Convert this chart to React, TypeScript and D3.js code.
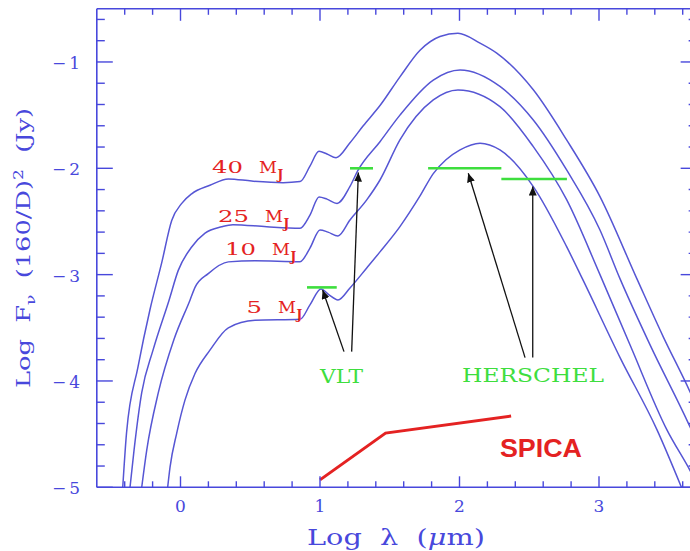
import React from "react";
import * as d3 from "d3";

const W = 690;
const H = 551;

// ---------- data ----------
const xDomain: [number, number] = [-0.6, 3.7];
const yDomain: [number, number] = [-5, -0.5];

const xMajorTicks = [0, 1, 2, 3];
const xTickLabels = ["0", "1", "2", "3"];
const yMajorTicks = [-5, -4, -3, -2, -1];
const yTickLabels = ["\u22125", "\u22124", "\u22123", "\u22122", "\u22121"];

const curve40: [number, number][] = [
  [-0.414, -5.0], [-0.387, -4.49], [-0.305, -3.87], [-0.219, -3.33], [-0.135, -2.89],
  [-0.063, -2.49], [0.009, -2.33], [0.08, -2.24], [0.211, -2.16], [0.343, -2.1],
  [0.51, -2.12], [0.735, -2.135], [0.857, -2.125], [0.928, -1.98], [0.993, -1.84],
  [1.05, -1.865], [1.115, -1.9], [1.215, -1.76], [1.31, -1.6], [1.43, -1.41],
  [1.573, -1.14], [1.717, -0.89], [1.86, -0.761], [1.989, -0.73], [2.147, -0.823],
  [2.267, -0.917], [2.529, -1.262], [2.768, -1.733], [3.007, -2.266], [3.272, -3.04],
  [3.459, -3.58], [3.652, -4.1], [3.7, -4.24],
];

const curve25: [number, number][] = [
  [-0.362, -5.0], [-0.333, -4.65], [-0.278, -4.11], [-0.197, -3.71], [-0.082, -3.24],
  [-0.016, -2.96], [0.08, -2.74], [0.176, -2.61], [0.295, -2.55], [0.376, -2.53],
  [0.618, -2.55], [0.857, -2.563], [0.928, -2.44], [0.993, -2.27], [1.05, -2.29],
  [1.122, -2.33], [1.215, -2.17], [1.272, -2.02], [1.43, -1.75], [1.573, -1.5],
  [1.812, -1.17], [2.004, -1.075], [2.29, -1.23], [2.529, -1.545], [2.768, -2.015],
  [3.007, -2.58], [3.151, -3.04], [3.366, -3.66], [3.652, -4.43], [3.7, -4.57],
];

const curve10: [number, number][] = [
  [-0.278, -5.0], [-0.242, -4.65], [-0.159, -4.11], [-0.047, -3.61], [0.068, -3.24],
  [0.104, -3.12], [0.199, -2.99], [0.343, -2.88], [0.534, -2.87], [0.857, -2.878],
  [0.928, -2.75], [1.0, -2.58], [1.057, -2.6], [1.129, -2.636], [1.215, -2.486],
  [1.335, -2.297], [1.43, -2.11], [1.573, -1.733], [1.812, -1.357], [1.989, -1.263],
  [2.29, -1.42], [2.529, -1.796], [2.768, -2.295], [3.007, -3.0], [3.222, -3.66],
  [3.487, -4.46], [3.652, -4.84], [3.7, -4.96],
];

const curve5: [number, number][] = [
  [-0.092, -5.0], [-0.075, -4.81], [-0.027, -4.49], [0.032, -4.18], [0.104, -3.93],
  [0.211, -3.71], [0.343, -3.5], [0.534, -3.43], [0.857, -3.42], [0.928, -3.285],
  [1.007, -3.135], [1.065, -3.19], [1.129, -3.238], [1.215, -3.125], [1.335, -2.937],
  [1.43, -2.786], [1.573, -2.548], [1.717, -2.26], [1.812, -2.05], [1.903, -1.92],
  [2.004, -1.827], [2.147, -1.764], [2.29, -1.827], [2.529, -2.172], [2.768, -2.737],
  [2.885, -3.05], [3.151, -3.78], [3.416, -4.46], [3.591, -5.0],
];

const curves = [curve40, curve25, curve10, curve5];
const massLabels = ["40", "25", "10", "5"];
const massLabelPos: [number, number][] = [
  [0.563, -2.043], [0.606, -2.504], [0.656, -2.815], [0.699, -3.36],
];

// [x0, x1, y]
const vltBars: [number, number, number][] = [
  [0.907, 1.12, -3.12],
  [1.215, 1.38, -2.0],
];
const herschelBars: [number, number, number][] = [
  [1.775, 2.3, -2.0],
  [2.3, 2.77, -2.1],
];

// [tailX, tailY, tipX, tipY]
const arrows: [number, number, number, number][] = [
  [1.172, -3.724, 1.019, -3.144],
  [1.227, -3.724, 1.275, -2.04],
  [2.47, -3.78, 2.063, -2.046],
  [2.525, -3.78, 2.525, -2.172],
];

const spicaLine: [number, number][] = [
  [1.0, -4.93],
  [1.47, -4.49],
  [2.37, -4.33],
];

const textLabels = {
  vlt: "VLT",
  herschel: "HERSCHEL",
  spica: "SPICA",
};
const vltPos: [number, number] = [1.0, -4.02];
const herschelPos: [number, number] = [2.018, -4.01];
const spicaPos: [number, number] = [2.29, -4.715];

// ---------- styles ----------
const BLUE = "#4848dc";
const CURVE = "#5656d4";
const RED = "#e42222";
const GREEN = "#3ede3e";
const SERIF = "'DejaVu Serif', serif";

export default function App() {
  const x = d3.scaleLinear().domain(xDomain).range([96.8, 696.65]);
  const y = d3.scaleLinear().domain(yDomain).range([487.3, 8.8]);

  const line = d3
    .line<[number, number]>()
    .x((d) => x(d[0]))
    .y((d) => y(d[1]))
    .curve(d3.curveMonotoneX);

  const straight = d3
    .line<[number, number]>()
    .x((d) => x(d[0]))
    .y((d) => y(d[1]));

  const xMinor = d3.range(-2, 19).map((i) => i * 0.2).filter(
    (v) => Math.abs(v - Math.round(v)) > 1e-6
  );
  const yMinor = d3.range(-24, -2).map((i) => i * 0.2).filter(
    (v) => Math.abs(v - Math.round(v)) > 1e-6
  );

  const x0 = x(xDomain[0]);
  const x1 = x(xDomain[1]);
  const y0 = y(yDomain[0]);
  const y1 = y(yDomain[1]);

  return (
    <svg
      width={W}
      height={H}
      style={{ position: "absolute", left: 0, top: 0, background: "#fff" }}
      xmlns="http://www.w3.org/2000/svg"
    >
      <defs>
        <clipPath id="plot">
          <rect x={x0} y={y1} width={x1 - x0} height={y0 - y1} />
        </clipPath>
        <marker
          id="ah"
          markerUnits="userSpaceOnUse"
          markerWidth={10}
          markerHeight={8}
          refX={9}
          refY={4}
          orient="auto"
        >
          <path d="M0,0 L9,4 L0,8 Z" fill="#111" />
        </marker>
      </defs>
      <rect x={0} y={0} width={W} height={H} fill="#fff" />

      {/* curves */}
      <g clipPath="url(#plot)">
        {curves.map((c, i) => (
          <path key={i} d={line(c) || ""} fill="none" stroke={CURVE} strokeWidth={1.5} />
        ))}
      </g>

      {/* green bars */}
      {[...vltBars, ...herschelBars].map((b, i) => (
        <line
          key={i}
          x1={x(b[0])}
          x2={x(b[1])}
          y1={y(b[2])}
          y2={y(b[2])}
          stroke={GREEN}
          strokeWidth={2.6}
        />
      ))}

      {/* arrows */}
      {arrows.map((a, i) => (
        <line
          key={i}
          x1={x(a[0])}
          y1={y(a[1])}
          x2={x(a[2])}
          y2={y(a[3])}
          stroke="#111"
          strokeWidth={1.3}
          markerEnd="url(#ah)"
        />
      ))}

      {/* SPICA */}
      <path d={straight(spicaLine) || ""} fill="none" stroke={RED} strokeWidth={3} />
      <text
        x={x(spicaPos[0])}
        y={y(spicaPos[1])}
        fill={RED}
        fontFamily="'Liberation Sans', Arial, sans-serif"
        fontWeight="bold"
        fontSize={25}
        textLength={82}
        lengthAdjust="spacingAndGlyphs"
      >
        {textLabels.spica}
      </text>

      {/* VLT / HERSCHEL labels */}
      <text
        x={x(vltPos[0])}
        y={y(vltPos[1])}
        fill={GREEN}
        fontFamily={SERIF}
        fontSize={19}
        textLength={43}
        lengthAdjust="spacingAndGlyphs"
      >
        {textLabels.vlt}
      </text>
      <text
        x={x(herschelPos[0])}
        y={y(herschelPos[1])}
        fill={GREEN}
        fontFamily={SERIF}
        fontSize={19}
        textLength={142}
        lengthAdjust="spacingAndGlyphs"
      >
        {textLabels.herschel}
      </text>

      {/* mass labels */}
      {massLabels.map((m, i) => {
        const px = x(massLabelPos[i][0]);
        const py = y(massLabelPos[i][1]);
        return (
          <g key={m} fill={RED} fontFamily={SERIF}>
            <text
              x={px - 16}
              y={py}
              fontSize={17}
              textAnchor="end"
              textLength={m.length * 15.5}
              lengthAdjust="spacingAndGlyphs"
            >
              {m}
            </text>
            <text x={px} y={py} fontSize={17} textLength={18} lengthAdjust="spacingAndGlyphs">
              M
            </text>
            <text x={px + 18.5} y={py + 6} fontSize={12} fontWeight="bold">
              J
            </text>
          </g>
        );
      })}

      {/* frame */}
      <g stroke={BLUE} strokeWidth={1.6} fill="none">
        <line x1={x0} x2={x1} y1={y0} y2={y0} />
        <line x1={x0} x2={x1} y1={y1} y2={y1} />
        <line x1={x0} x2={x0} y1={y0} y2={y1} />
        <line x1={x1} x2={x1} y1={y0} y2={y1} />
      </g>

      {/* ticks */}
      <g stroke={BLUE} strokeWidth={1.4}>
        {xMajorTicks.map((t) => (
          <g key={"xM" + t}>
            <line x1={x(t)} x2={x(t)} y1={y0} y2={y0 - 11} />
            <line x1={x(t)} x2={x(t)} y1={y1} y2={y1 + 12} />
          </g>
        ))}
        {xMinor.map((t) => (
          <g key={"xm" + t.toFixed(2)}>
            <line x1={x(t)} x2={x(t)} y1={y0} y2={y0 - 6} />
            <line x1={x(t)} x2={x(t)} y1={y1} y2={y1 + 6} />
          </g>
        ))}
        {yMajorTicks.map((t) => (
          <g key={"yM" + t}>
            <line x1={x0} x2={x0 + 16} y1={y(t)} y2={y(t)} />
            <line x1={x1} x2={x1 - 16} y1={y(t)} y2={y(t)} />
          </g>
        ))}
        {yMinor.map((t) => (
          <g key={"ym" + t.toFixed(2)}>
            <line x1={x0} x2={x0 + 8} y1={y(t)} y2={y(t)} />
            <line x1={x1} x2={x1 - 8} y1={y(t)} y2={y(t)} />
          </g>
        ))}
      </g>

      {/* tick labels */}
      <g fill={BLUE} fontFamily={SERIF} fontSize={17}>
        {xMajorTicks.map((t, i) => (
          <text key={"xl" + t} x={x(t)} y={y0 + 25} textAnchor="middle">
            {xTickLabels[i]}
          </text>
        ))}
        {yMajorTicks.map((t, i) => (
          <text
            key={"yl" + t}
            x={80}
            y={y(t) + 7}
            textAnchor="end"
            textLength={28}
            lengthAdjust="spacing"
          >
            {yTickLabels[i]}
          </text>
        ))}
      </g>

      {/* axis titles */}
      <text
        x={396}
        y={545}
        fill={BLUE}
        fontFamily={SERIF}
        fontSize={23}
        textAnchor="middle"
        textLength={178}
        lengthAdjust="spacingAndGlyphs"
      >
        Log{"\u00A0\u00A0"}λ{"\u00A0\u00A0"}(<tspan fontStyle="italic">μ</tspan>m)
      </text>
      <text
        transform="translate(30,248) rotate(-90)"
        fill={BLUE}
        fontFamily={SERIF}
        fontSize={18}
        textAnchor="middle"
        textLength={280}
        lengthAdjust="spacingAndGlyphs"
      >
        Log{"\u00A0\u00A0"}F
        <tspan fontSize={12} dy={5}>ν</tspan>
        <tspan dy={-5}>{"\u00A0\u00A0"}(160/D)</tspan>
        <tspan fontSize={12} dy={-7}>2</tspan>
        <tspan dy={7}>{"\u00A0\u00A0"}(Jy)</tspan>
      </text>
    </svg>
  );
}
